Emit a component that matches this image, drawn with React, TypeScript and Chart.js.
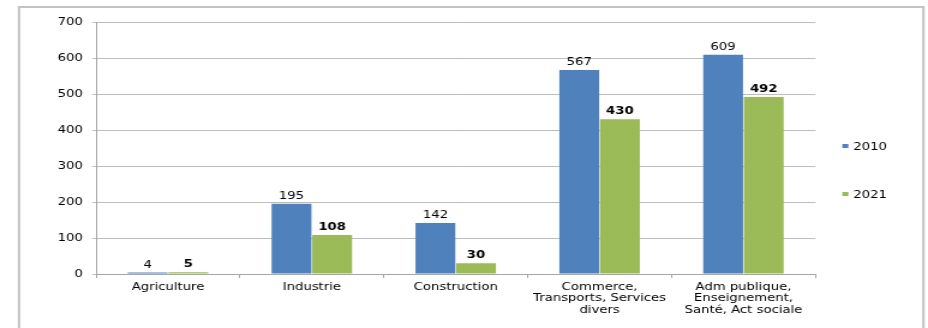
import React, { useEffect, useRef } from "react";
import { Chart, registerables } from "chart.js";

Chart.register(...registerables);

const categories: (string | string[])[] = [
  "Agriculture",
  "Industrie",
  "Construction",
  ["Commerce,", "Transports, Services", "divers"],
  ["Adm publique,", "Enseignement,", "Santé, Act sociale"],
];
const seriesNames = ["2010", "2021"];
const values2010 = [4, 195, 142, 567, 609];
const values2021 = [5, 108, 30, 430, 492];
const seriesColors = ["#4F81BD", "#9BBB59"];
const yTicks = [0, 100, 200, 300, 400, 500, 600, 700];

const SX = 1.2; // horizontal stretch of the picture
const W = Math.round(928 / SX);
const H = 328;
const FONT = "'DejaVu Sans', Verdana, sans-serif";

export default function App() {
  const ref = useRef<HTMLCanvasElement | null>(null);
  useEffect(() => {
    document.body.style.margin = "0";
    const canvas = ref.current!;
    const framePlugin = {
      id: "frame",
      beforeDraw(chart: any) {
        const ctx = chart.ctx;
        ctx.save();
        ctx.fillStyle = "#ffffff";
        ctx.fillRect(0, 0, chart.width, chart.height);
        ctx.strokeStyle = "#c3c3c3";
        ctx.lineWidth = 2;
        ctx.strokeRect(19 / SX, 7, (923 - 19) / SX, 340);
        ctx.restore();
      },
    };
    const labelPlugin = {
      id: "valueLabels",
      afterDatasetsDraw(chart: any) {
        const ctx = chart.ctx;
        ctx.save();
        ctx.textAlign = "center";
        ctx.textBaseline = "alphabetic";
        ctx.fillStyle = "#000";
        chart.data.datasets.forEach((ds: any, di: number) => {
          const meta = chart.getDatasetMeta(di);
          ctx.font = (di === 1 ? "bold " : "") + "11px " + FONT;
          meta.data.forEach((bar: any, i: number) => {
            ctx.fillText(String(ds.data[i]), bar.x, bar.y - 5);
          });
        });
        // legend
        ctx.textAlign = "left";
        ctx.textBaseline = "middle";
        ctx.font = "11px " + FONT;
        const ys = [146, 194];
        seriesNames.forEach((n, i) => {
          ctx.fillStyle = seriesColors[i];
          ctx.fillRect(842 / SX, ys[i] - 2, 5, 4);
          ctx.fillStyle = "#000";
          ctx.fillText(n, 853 / SX, ys[i] + 1);
        });
        ctx.restore();
      },
    };
    const chart = new Chart(canvas, {
      type: "bar",
      data: {
        labels: categories,
        datasets: [
          {
            label: seriesNames[0],
            data: values2010,
            backgroundColor: seriesColors[0],
            categoryPercentage: 0.565,
            barPercentage: 0.98,
          },
          {
            label: seriesNames[1],
            data: values2021,
            backgroundColor: seriesColors[1],
            categoryPercentage: 0.565,
            barPercentage: 0.98,
          },
        ],
      },
      options: {
        animation: false,
        responsive: false,
        devicePixelRatio: 1,
        layout: { padding: { left: 0, right: W - 815 / SX, top: 22, bottom: 0 } },
        plugins: { legend: { display: false }, tooltip: { enabled: false } },
        scales: {
          x: {
            afterFit(scale: any) {
              scale.height = H - 274;
            },
            grid: {
              offset: true,
              drawOnChartArea: false,
              drawTicks: true,
              tickLength: 4,
              color: "#a6a6a6",
            },
            border: { display: true, color: "#a6a6a6", width: 1 },
            ticks: {
              color: "#000",
              padding: 3,
              maxRotation: 0,
              autoSkip: false,
              font: { family: FONT, size: 11, lineHeight: 1.05 },
            },
          },
          y: {
            min: 0,
            max: 700,
            afterFit(scale: any) {
              scale.width = 96 / SX;
            },
            afterBuildTicks(scale: any) {
              scale.ticks = yTicks.map((v) => ({ value: v }));
            },
            grid: {
              color: "#bdbdbd",
              tickLength: 3,
              drawTicks: true,
            },
            border: { display: true, color: "#a6a6a6", width: 1 },
            ticks: {
              color: "#000",
              padding: 8,
              font: { family: FONT, size: 11 },
            },
          },
        },
      },
      plugins: [framePlugin, labelPlugin],
    } as any);
    return () => chart.destroy();
  }, []);
  return (
    <div style={{ width: 928, height: 328, overflow: "hidden" }}>
      <canvas
        ref={ref}
        width={W}
        height={H}
        style={{ width: "928px", height: "328px", display: "block" }}
      />
    </div>
  );
}
